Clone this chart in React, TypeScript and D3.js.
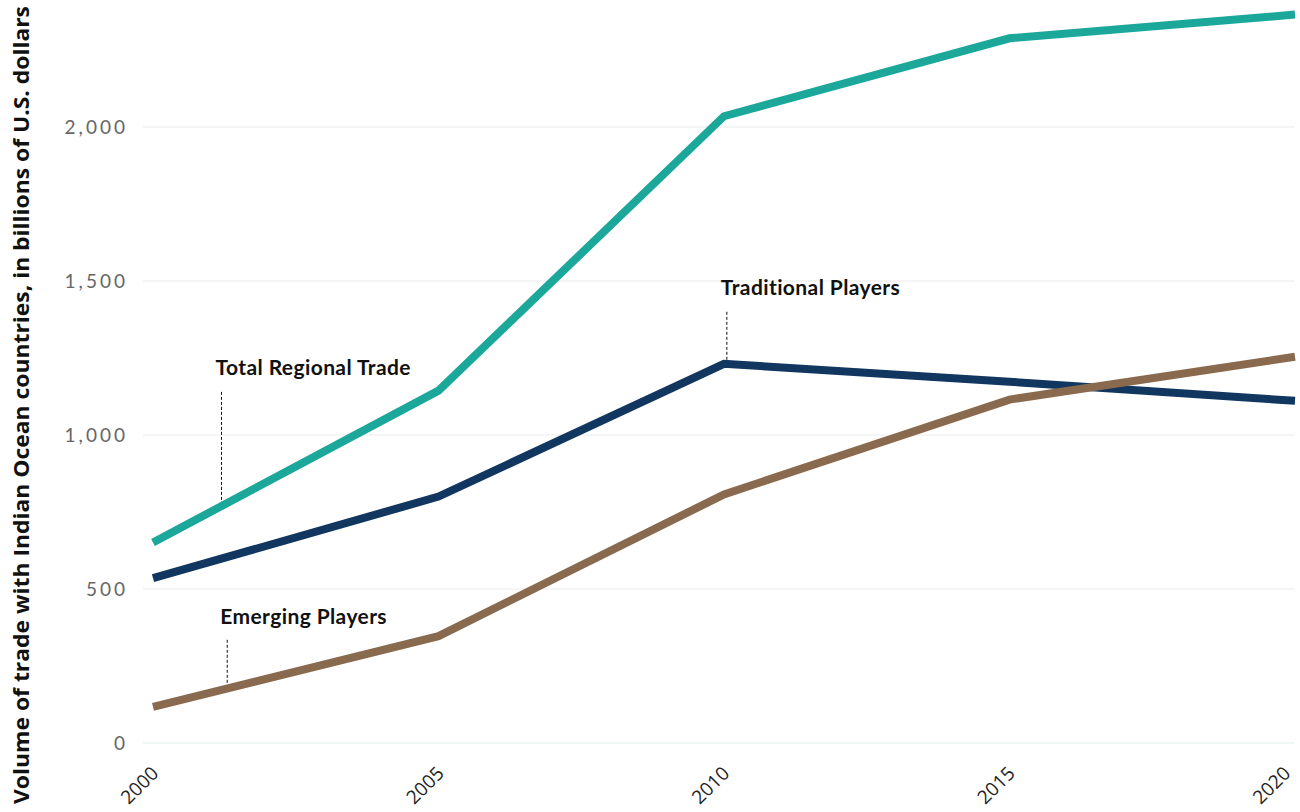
import React from "react";
import * as d3 from "d3";

const years = [2000, 2005, 2010, 2015, 2020];
const totalRegional = [651, 1144, 2035, 2288, 2365];
const traditional = [535, 800, 1231, 1173, 1111];
const emerging = [117, 347, 807, 1115, 1254];
const yTicks = [0, 500, 1000, 1500, 2000];

const seriesList = [
  { name: "Total Regional Trade", values: totalRegional, color: "#1ba89b" },
  { name: "Traditional Players", values: traditional, color: "#11365f" },
  { name: "Emerging Players", values: emerging, color: "#8a6a4e" },
];

const annotations = [
  { text: "Total Regional Trade", year: 2001.2, value: totalRegional[0] + (totalRegional[1] - totalRegional[0]) * 0.24, labelValue: 1195, lineTop: 1140, dx: -6 },
  { text: "Traditional Players", year: 2010.05, value: 1231, labelValue: 1453, lineTop: 1400, dx: -6 },
  { text: "Emerging Players", year: 2001.3, value: 180, labelValue: 386, lineTop: 335, dx: -7 },
];

export default function App() {
  const W = 1300, H = 812;
  const x = d3.scaleLinear().domain([2000, 2020]).range([153, 1295]);
  const y = d3.scaleLinear().domain([0, 2000]).range([743, 127]);
  const line = d3.line<number>().x((_, i) => x(years[i])).y((d) => y(d));

  return (
    <svg width={W} height={H} style={{ position: "absolute", left: 0, top: 0, background: "#fff" }}>
      {yTicks.map((t) => (
        <g key={t}>
          <line x1={143} x2={1295} y1={y(t)} y2={y(t)} stroke={t === 0 ? "#e3eeee" : "#ececec"} strokeWidth={1.2} />
          <text x={128} y={y(t) + 7} textAnchor="end" fontFamily="Lato, sans-serif" fontSize={19} fill="#666" letterSpacing={3}>
            {d3.format(",")(t)}
          </text>
        </g>
      ))}
      {years.map((yr) => (
        <text key={yr} transform={`translate(${Math.min(x(yr) + 3, 1288)},${771}) rotate(-45)`} textAnchor="end" dominantBaseline="middle"
          fontFamily="'Open Sans', sans-serif" fontSize={19} fill="#222">
          {yr}
        </text>
      ))}
      <text transform="translate(29,405) rotate(-90)" textAnchor="middle" fontFamily="'Open Sans', sans-serif" fontWeight={700}
        fontSize={22} fill="#111" textLength={798} lengthAdjust="spacingAndGlyphs">
        Volume of trade with Indian Ocean countries, in billions of U.S. dollars
      </text>
      {seriesList.map((s) => (
        <path key={s.name} d={line(s.values) || ""} fill="none" stroke={s.color} strokeWidth={8} strokeLinejoin="miter" />
      ))}
      {annotations.map((a) => (
        <g key={a.text}>
          <line x1={x(a.year)} x2={x(a.year)} y1={y(a.lineTop)} y2={y(a.value) - 4} stroke="#111" strokeWidth={1} strokeDasharray="3,2" />
          <text x={x(a.year) + a.dx} y={y(a.labelValue)} fontFamily="Lato, sans-serif" fontWeight={700} fontSize={21} fill="#111" letterSpacing={0.4}>
            {a.text}
          </text>
        </g>
      ))}
    </svg>
  );
}
